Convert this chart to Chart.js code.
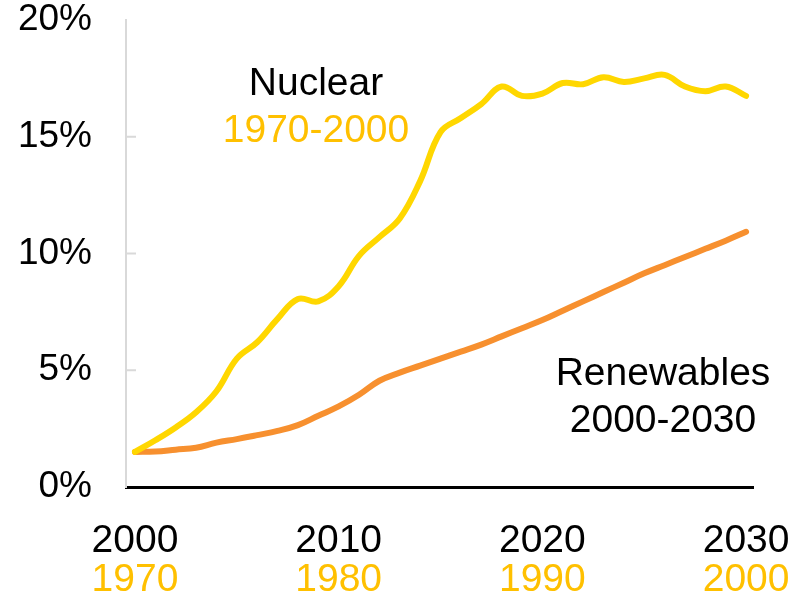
<!DOCTYPE html>
<html>
<head>
<meta charset="utf-8">
<script src="https://cdn.jsdelivr.net/npm/chart.js@4.4.1/dist/chart.umd.min.js"></script>
<style>
  html, body { margin: 0; padding: 0; background: #fff; }
  #wrap { width: 792px; height: 598px; }
</style>
</head>
<body>
<div id="wrap"><canvas id="shareChart" width="792" height="598"></canvas></div>
<script>
// Years since start (renewables timeline), nuclear timeline is shifted by 30 years
const years = [2000, 2001, 2002, 2003, 2004, 2005, 2006, 2007, 2008, 2009,
  2010, 2011, 2012, 2013, 2014, 2015, 2016, 2017, 2018, 2019,
  2020, 2021, 2022, 2023, 2024, 2025, 2026, 2027, 2028, 2029, 2030];

// Nuclear share 1970-2000 (%)
const nuclear = [1.5, 2.0, 2.55, 3.2, 4.1, 5.5, 6.2, 7.2, 8.05, 7.95,
  8.6, 9.9, 10.7, 11.5, 13.1, 15.2, 15.8, 16.4, 17.15, 16.75,
  16.85, 17.3, 17.25, 17.55, 17.35, 17.5, 17.65, 17.15, 16.95, 17.15, 16.75];

// Renewables share 2000-2030 (%)
const renewables = [1.5, 1.52, 1.6, 1.68, 1.9, 2.05, 2.22, 2.4, 2.65, 3.05,
  3.45, 3.95, 4.55, 4.9, 5.2, 5.5, 5.8, 6.1, 6.45, 6.8,
  7.15, 7.55, 7.95, 8.35, 8.75, 9.15, 9.5, 9.85, 10.2, 10.55, 10.93];

const topTicks = [2000, 2010, 2020, 2030];
const lowTicks = [1970, 1980, 1990, 2000];
const yTicks = [0, 5, 10, 15, 20];

const YELLOW = '#FFD700';
const LABEL_YELLOW = '#FFC000';
const ORANGE = '#F7902F';
const FONT = "'Liberation Sans', Arial, sans-serif";

// stop the axes from reserving extra room for overflowing labels
function noPad(scale) {
  scale.paddingLeft = 0;
  scale.paddingRight = 0;
  scale.paddingTop = 0;
  scale.paddingBottom = 0;
}

// small tick marks inside the plot, plus the text annotations
const extras = {
  id: 'extras',
  afterDraw(chart) {
    const ctx = chart.ctx;
    const y = chart.scales.y;
    const left = chart.chartArea.left;
    ctx.save();
    ctx.strokeStyle = '#d9d9d9';
    ctx.lineWidth = 2;
    yTicks.slice(1, -1).forEach(v => {
      const py = y.getPixelForValue(v);
      ctx.beginPath();
      ctx.moveTo(left, py);
      ctx.lineTo(left + 10, py);
      ctx.stroke();
    });

    ctx.font = '39px ' + FONT;
    ctx.textAlign = 'center';
    ctx.textBaseline = 'middle';
    ctx.fillStyle = '#000';
    ctx.fillText('Nuclear', 316, 84);
    ctx.fillStyle = LABEL_YELLOW;
    ctx.fillText('1970-2000', 316, 131);
    ctx.fillStyle = '#000';
    ctx.fillText('Renewables', 663, 374);
    ctx.fillText('2000-2030', 663, 421);
    ctx.restore();
  }
};

new Chart(document.getElementById('shareChart'), {
  type: 'line',
  data: {
    datasets: [{
      label: 'Nuclear',
      data: years.map((yr, i) => ({ x: yr, y: nuclear[i] })),
      borderColor: YELLOW,
      borderWidth: 6,
      tension: 0.4,
      borderCapStyle: 'round',
      pointRadius: 0
    }, {
      label: 'Renewables',
      data: years.map((yr, i) => ({ x: yr, y: renewables[i] })),
      borderColor: ORANGE,
      borderWidth: 6,
      tension: 0.4,
      borderCapStyle: 'round',
      pointRadius: 0
    }]
  },
  options: {
    responsive: false,
    animation: false,
    layout: { padding: { top: 20, right: 39, left: 0, bottom: 0 } },
    plugins: {
      legend: { display: false },
      tooltip: { enabled: false }
    },
    scales: {
      x: {
        type: 'linear',
        min: 1999.56,
        max: 2030.34,
        weight: 0,
        afterBuildTicks: scale => { scale.ticks = topTicks.map(v => ({ value: v })); },
        afterFit: scale => { scale.height = 70; noPad(scale); },
        grid: { display: false, drawTicks: false },
        border: { color: '#000', width: 3 },
        ticks: {
          color: '#000',
          padding: 31,
          maxRotation: 0,
          font: { family: FONT, size: 39 },
          callback: v => String(v)
        }
      },
      x2: {
        type: 'linear',
        position: 'bottom',
        min: 1969.56,
        max: 2000.34,
        weight: 1,
        afterBuildTicks: scale => { scale.ticks = lowTicks.map(v => ({ value: v })); },
        afterFit: scale => { scale.height = 41; noPad(scale); },
        grid: { display: false, drawTicks: false },
        border: { display: false },
        ticks: {
          color: LABEL_YELLOW,
          padding: 0,
          maxRotation: 0,
          font: { family: FONT, size: 39 },
          callback: v => String(v)
        }
      },
      y: {
        min: 0,
        max: 20,
        afterBuildTicks: scale => { scale.ticks = yTicks.map(v => ({ value: v })); },
        afterFit: scale => { scale.width = 126; noPad(scale); },
        grid: { display: false, drawTicks: false },
        border: { color: '#d9d9d9', width: 2 },
        ticks: {
          color: '#000',
          padding: 34,
          font: { family: FONT, size: 37 },
          callback: v => v + '%'
        }
      }
    }
  },
  plugins: [extras]
});
</script>
</body>
</html>
